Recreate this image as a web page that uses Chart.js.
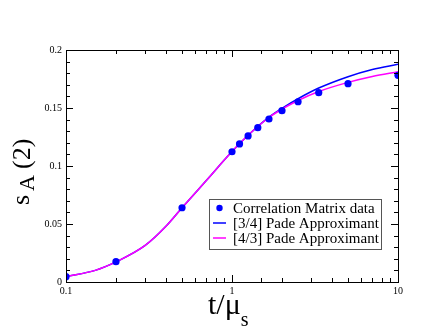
<!DOCTYPE html>
<html>
<head>
<meta charset="utf-8">
<script src="https://cdn.jsdelivr.net/npm/chart.js@4/dist/chart.umd.min.js"></script>
<style>
  html, body { margin: 0; padding: 0; background: #fff; }
  #wrap { width: 430px; height: 332px; }
</style>
</head>
<body>
<div id="wrap"><canvas id="chart" width="430" height="332"></canvas></div>
<script>
// Data

const dataT = [0.1, 0.2, 0.5, 1.0, 1.11, 1.25, 1.43, 1.67, 2.0, 2.5, 3.33, 5.0, 10.0];
const dataS = [0.0046, 0.0175, 0.0640, 0.1123, 0.1190, 0.1259, 0.1330, 0.1405, 0.1477, 0.1554, 0.1632, 0.1710, 0.1782];

const padeT = [0.1, 0.15, 0.2, 0.3, 0.4, 0.5, 0.7, 1.0, 1.25, 1.67, 2.0, 2.5, 3.33, 5.0, 7.0, 10.0];
const pade34 = [0.0047, 0.0100, 0.0173, 0.0315, 0.0480, 0.0640, 0.0875, 0.1125, 0.1265, 0.1422, 0.1497, 0.1580, 0.1672, 0.1770, 0.1832, 0.1877];
const pade43 = [0.0047, 0.0100, 0.0173, 0.0315, 0.0480, 0.0640, 0.0875, 0.1125, 0.1265, 0.1418, 0.1490, 0.1565, 0.1642, 0.1721, 0.1772, 0.1813];

const xMajor = [0.1, 1, 10];
const yTicks = [0, 0.05, 0.1, 0.15, 0.2];
const yMinor = [0.01, 0.02, 0.03, 0.04, 0.06, 0.07, 0.08, 0.09, 0.11, 0.12, 0.13, 0.14, 0.16, 0.17, 0.18, 0.19];

const legendLabels = ["Correlation Matrix data", "[3/4] Pade Approximant", "[4/3] Pade Approximant"];

const BLUE = "#0000ff",
    MAGENTA = "#ff00ff",
    SERIF = "'Liberation Serif', 'Times New Roman', serif";

function pairs(xs, ys) {
    return xs.map((x, i) => ({ x: x, y: ys[i] }));
}

// Frame, inward ticks, axis titles and legend

const gracePlugin = {
    id: "grace",
    afterDraw(chart) {
        const ctx = chart.ctx,
            area = chart.chartArea,
            xs = chart.scales.x,
            ys = chart.scales.y;

        ctx.save();
        ctx.strokeStyle = "#000";
        ctx.lineWidth = 1;

        // ticks
        ctx.beginPath();
        xs.ticks.forEach(t => {
            let px = Math.round(xs.getPixelForValue(t.value)) + 0.5,
                len = xMajor.some(m => Math.abs(m - t.value) < 1e-9) ? 7 : 4;
            ctx.moveTo(px, area.bottom);
            ctx.lineTo(px, area.bottom - len);
            ctx.moveTo(px, area.top);
            ctx.lineTo(px, area.top + len);
        });
        yTicks.concat(yMinor).forEach(v => {
            let py = Math.round(ys.getPixelForValue(v)) + 0.5,
                len = yTicks.includes(v) ? 7 : 4;
            ctx.moveTo(area.left, py);
            ctx.lineTo(area.left + len, py);
            ctx.moveTo(area.right, py);
            ctx.lineTo(area.right - len, py);
        });
        ctx.stroke();

        // frame
        ctx.strokeRect(Math.round(area.left) + 0.5, Math.round(area.top) + 0.5,
            Math.round(area.right - area.left), Math.round(area.bottom - area.top));

        // x title
        ctx.fillStyle = "#000";
        ctx.textBaseline = "alphabetic";
        ctx.textAlign = "left";
        ctx.font = "30px " + SERIF;
        let xt = "t/\u03bc",
            xw = ctx.measureText(xt).width;
        ctx.fillText(xt, 208, 314);
        ctx.font = "20px " + SERIF;
        ctx.fillText("s", 208 + xw, 326);

        // y title
        ctx.save();
        ctx.translate(29, 205);
        ctx.rotate(-Math.PI / 2);
        ctx.font = "26px " + SERIF;
        ctx.fillText("s", 0, 0);
        ctx.font = "22px " + SERIF;
        ctx.fillText("A", 14, 4.5);
        ctx.font = "26px " + SERIF;
        ctx.fillText("(2)", 36, 0.5);
        ctx.restore();

        // legend
        ctx.fillStyle = "#fff";
        ctx.fillRect(209.5, 199.5, 172, 50);
        ctx.strokeStyle = "#555";
        ctx.strokeRect(209.5, 199.5, 172, 50);

        ctx.font = "15px " + SERIF;
        ctx.textBaseline = "middle";
        ctx.fillStyle = "#000";
        let rows = [208, 223, 238];
        legendLabels.forEach((label, i) => {
            ctx.fillText(label, 233, rows[i] + 1);
        });

        ctx.fillStyle = BLUE;
        ctx.beginPath();
        ctx.arc(219.5, rows[0], 3.2, 0, Math.PI * 2);
        ctx.fill();

        ctx.lineWidth = 1.5;
        ctx.strokeStyle = BLUE;
        ctx.beginPath();
        ctx.moveTo(213, rows[1]);
        ctx.lineTo(226, rows[1]);
        ctx.stroke();
        ctx.strokeStyle = MAGENTA;
        ctx.beginPath();
        ctx.moveTo(213, rows[2]);
        ctx.lineTo(226, rows[2]);
        ctx.stroke();

        ctx.restore();
    }
};

const chartCtx = document.querySelector("#chart");

let paceChart = new Chart(chartCtx, {
    type: "scatter",
    data: {
        datasets: [{
            label: legendLabels[1],
            data: pairs(padeT, pade34),
            showLine: true,
            borderColor: BLUE,
            borderWidth: 1.5,
            pointRadius: 0,
            cubicInterpolationMode: "monotone",
            order: 2,
        },
        {
            label: legendLabels[2],
            data: pairs(padeT, pade43),
            showLine: true,
            borderColor: MAGENTA,
            borderWidth: 1.5,
            pointRadius: 0,
            cubicInterpolationMode: "monotone",
            order: 1,
        },
        {
            label: legendLabels[0],
            data: pairs(dataT, dataS),
            showLine: false,
            pointRadius: 3.6,
            pointBackgroundColor: BLUE,
            pointBorderWidth: 0,
            order: 0,
        }],
    },
    options: {
        responsive: false,
        animation: false,
        devicePixelRatio: 1,
        layout: {
            padding: { left: 0, top: 50, right: 32, bottom: 0 },
        },
        plugins: {
            legend: { display: false },
            tooltip: { enabled: false },
        },
        scales: {
            x: {
                type: "logarithmic",
                min: 0.1,
                max: 10,
                grid: { display: false, drawTicks: false },
                border: { display: false },
                ticks: {
                    autoSkip: false,
                    maxRotation: 0,
                    padding: 3,
                    color: "#000",
                    font: { family: SERIF, size: 10 },
                    callback: v => xMajor.some(m => Math.abs(m - v) < 1e-9) ? String(v) : "",
                },
                afterFit: s => { s.height = 50; },
            },
            y: {
                min: 0,
                max: 0.2,
                grid: { display: false, drawTicks: false },
                border: { display: false },
                ticks: {
                    stepSize: 0.05,
                    padding: 4,
                    color: "#000",
                    font: { family: SERIF, size: 10 },
                    callback: v => String(parseFloat(v.toFixed(2))),
                },
                afterFit: s => { s.width = 66; },
            },
        },
    },
    plugins: [gracePlugin],
});
</script>
</body>
</html>
